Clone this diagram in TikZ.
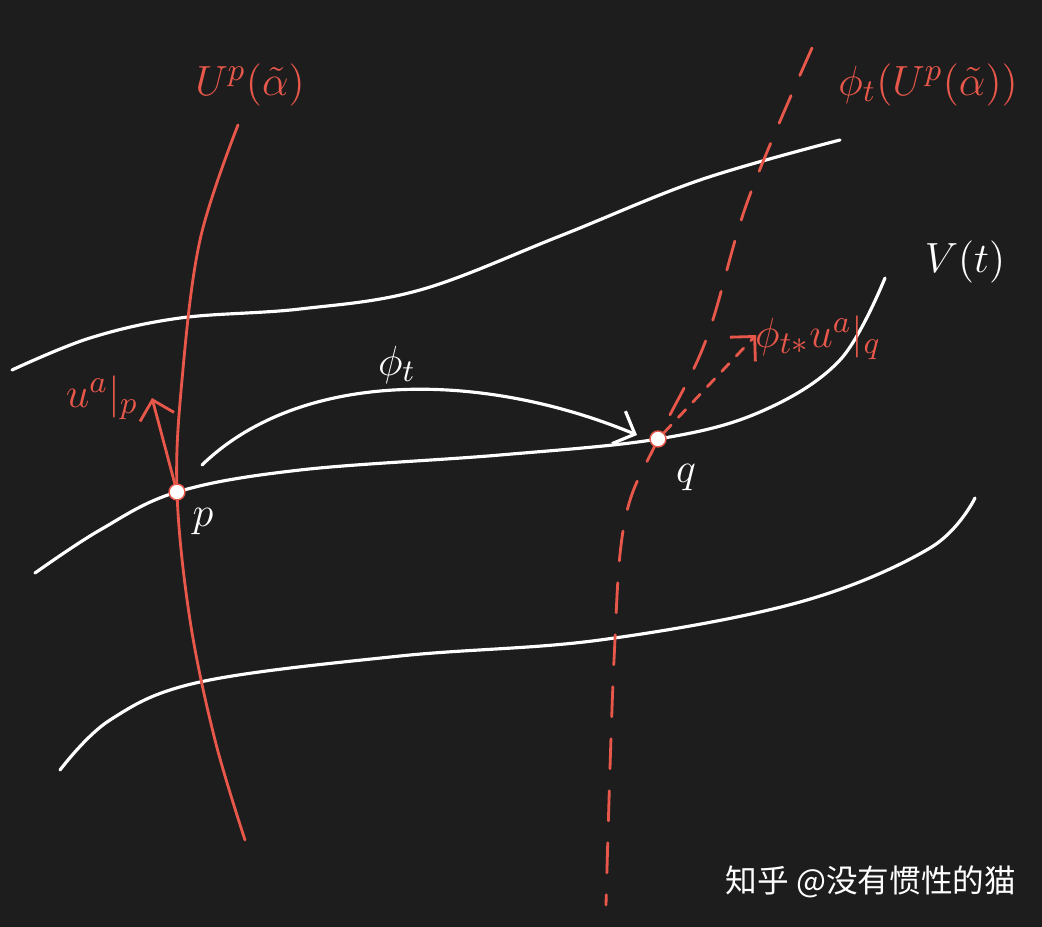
\documentclass[tikz,border=0pt]{standalone}
\usepackage{fontspec}
\newfontfamily\cjk{Noto Sans CJK SC}
\usetikzlibrary{arrows.meta}

\begin{document}
\begin{tikzpicture}[x=0.01cm, y=-0.01cm]
  \definecolor{mybg}{HTML}{1E1D1E}
  \definecolor{myred}{HTML}{E8584A}
  \tikzstyle{curve}=[white, line width=0.9pt, line cap=round]
  \tikzstyle{redline}=[myred, line width=0.8pt, line cap=round]
  \tikzstyle{reddash}=[redline, dash pattern=on 0.3cm off 0.22cm]
  \tikzstyle{lbl}=[font=\fontsize{13}{15}\selectfont, inner sep=1pt]
  \tikzstyle{spot}=[circle, fill=white, draw=myred, line width=0.4pt, inner sep=1.6pt]

  \fill[mybg] (0,0) rectangle (1042,927);
  \useasboundingbox (0,0) rectangle (1042,927);

  % leaves of the foliation
  \draw[curve] plot[smooth, tension=0.6] coordinates
    {(12,370) (90,338) (180,318) (300,309) (420,290) (560,236) (700,180) (840,140)};
  \draw[curve] plot[smooth, tension=0.6] coordinates
    {(35,573) (100,530) (177,492) (300,470) (500,455) (658,439) (760,412) (840,360) (885,278)};
  \draw[curve] plot[smooth, tension=0.6] coordinates
    {(60,770) (110,720) (200,682) (400,656) (600,640) (800,602) (930,548) (975,498)};

  % the submanifold and its image
  \draw[redline] plot[smooth, tension=0.6] coordinates
    {(238,125) (200,240) (182,380) (177,492) (190,620) (215,740) (245,840)};
  \draw[reddash] plot[smooth, tension=0.6] coordinates
    {(812,48) (748,200) (706,340) (658,439) (625,520) (614,660) (606,905)};

  \node[spot] (p) at (177,492) {};
  \node[spot] (q) at (658,439) {};
  \coordinate (up) at (152,398);
  \coordinate (uq) at (756,335);
  \coordinate (fs) at (202,465);
  \coordinate (fe) at (637,435);

  % vectors
  \draw[redline, -{Straight Barb[length=5pt]}] (p) -- (up);
  \draw[redline, dashed, -{Straight Barb[length=5pt]}] (q) -- (uq);

  % the flow
  \draw[curve, -{Straight Barb[length=5pt]}] (fs)
    .. controls (300,370) and (480,370) .. (fe);

  % labels
  \node[lbl, myred] (lu) at (250,85) {$U^p(\tilde{\alpha})$};
  \node[lbl, myred] (lfu) at (928,85) {$\phi_t\bigl(U^p(\tilde{\alpha})\bigr)$};
  \node[lbl, white] (lv) at (965,262) {$V(t)$};
  \node[lbl, white] (lphi) at (397,365) {$\phi_t$};
  \node[lbl, myred] (lup) at (102,398) {$u^a|_p$};
  \node[lbl, myred] (luq) at (818,338) {$\phi_{t*}u^a|_q$};
  \node[lbl, white] (lp) at (203,522) {$p$};
  \node[lbl, white] (lq) at (686,478) {$q$};

  \node[white, font=\cjk\fontsize{9}{11}\selectfont] (mark) at (871,882) {知乎 @没有惯性的猫};
\end{tikzpicture}
\end{document}
